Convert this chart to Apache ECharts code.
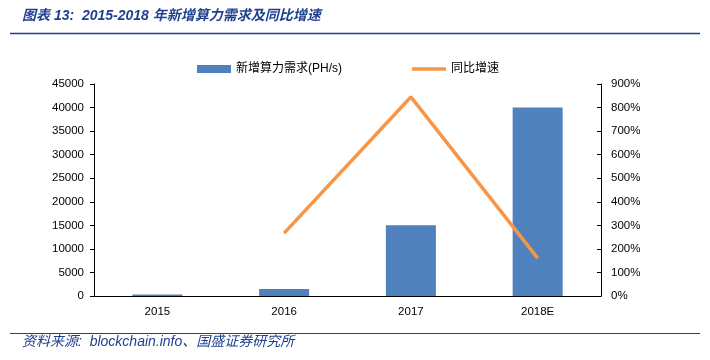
<!DOCTYPE html>
<html><head><meta charset="utf-8">
<script src="https://cdn.jsdelivr.net/npm/echarts@6/dist/echarts.min.js"></script>
<style>html,body{margin:0;padding:0;background:#fff}#c{width:710px;height:360px}</style>
</head><body><div id="c"></div>
<script>
var categories = ['2015', '2016', '2017', '2018E'];
var demand = [300, 1500, 15000, 40000];
var growth = [null, 267, 845, 161];
var leftTicks = [0, 45000, 5000];
var rightTicks = [0, 900, 100];

var chart = echarts.init(document.getElementById('c'));
var axisFont = {color: '#000', fontSize: 11.5, fontFamily: 'Liberation Sans, Arial, sans-serif'};
chart.setOption({
  animation: false,
  backgroundColor: '#fff',
  graphic: [
    {type: 'text', left: 22, top: 9, style: {text: '图表 13:  2015-2018 年新增算力需求及同比增速', fill: '#1f3f8f', font: 'italic bold 14px "Liberation Sans", "Noto Sans CJK SC", sans-serif'}},
    {type: 'line', shape: {x1: 10, y1: 33.5, x2: 700, y2: 33.5}, style: {stroke: '#1f3f8f', lineWidth: 1.5}},
    {type: 'line', shape: {x1: 10, y1: 333.5, x2: 700, y2: 333.5}, style: {stroke: '#1f3f8f', lineWidth: 1.2}},
    {type: 'text', left: 22, top: 335, style: {text: '资料来源:  blockchain.info、国盛证券研究所', fill: '#1f3f8f', font: 'italic 14px "Liberation Sans", "Noto Sans CJK SC", sans-serif'}}
  ],
  legend: {
    top: 58, left: 192, itemGap: 70,
    itemWidth: 34, itemHeight: 8,
    textStyle: {color: '#000', fontSize: 12, fontFamily: 'Liberation Sans, Noto Sans CJK SC, sans-serif'},
    data: [
      {name: '新增算力需求(PH/s)', icon: 'rect'},
      {name: '同比增速', icon: 'path://M0,0h34v3.5h-34z', itemStyle: {color: '#f79646'}}
    ]
  },
  grid: {left: 94, right: 109, top: 84, bottom: 64},
  xAxis: {
    type: 'category', data: categories,
    axisLine: {lineStyle: {color: '#000', width: 1}},
    axisTick: {inside: true, length: 4, lineStyle: {color: '#000'}},
    axisLabel: Object.assign({margin: 10}, axisFont)
  },
  yAxis: [
    {type: 'value', min: leftTicks[0], max: leftTicks[1], interval: leftTicks[2],
      axisLine: {show: true, lineStyle: {color: '#000'}},
      axisTick: {show: true, length: 4, lineStyle: {color: '#000'}},
      splitLine: {show: false},
      axisLabel: Object.assign({margin: 10, formatter: function (v) { return String(v); }}, axisFont)},
    {type: 'value', min: rightTicks[0], max: rightTicks[1], interval: rightTicks[2],
      axisLine: {show: true, lineStyle: {color: '#000'}},
      axisTick: {show: true, inside: true, length: 4, lineStyle: {color: '#000'}},
      splitLine: {show: false},
      axisLabel: Object.assign({margin: 10, formatter: '{value}%'}, axisFont)}
  ],
  series: [
    {name: '新增算力需求(PH/s)', type: 'bar', data: demand, barWidth: 50, yAxisIndex: 0,
      itemStyle: {color: '#4f81bd'}},
    {name: '同比增速', type: 'line', data: growth, yAxisIndex: 1, symbol: 'none',
      lineStyle: {color: '#f79646', width: 3.5}, itemStyle: {color: '#f79646'}}
  ]
});
</script></body></html>
